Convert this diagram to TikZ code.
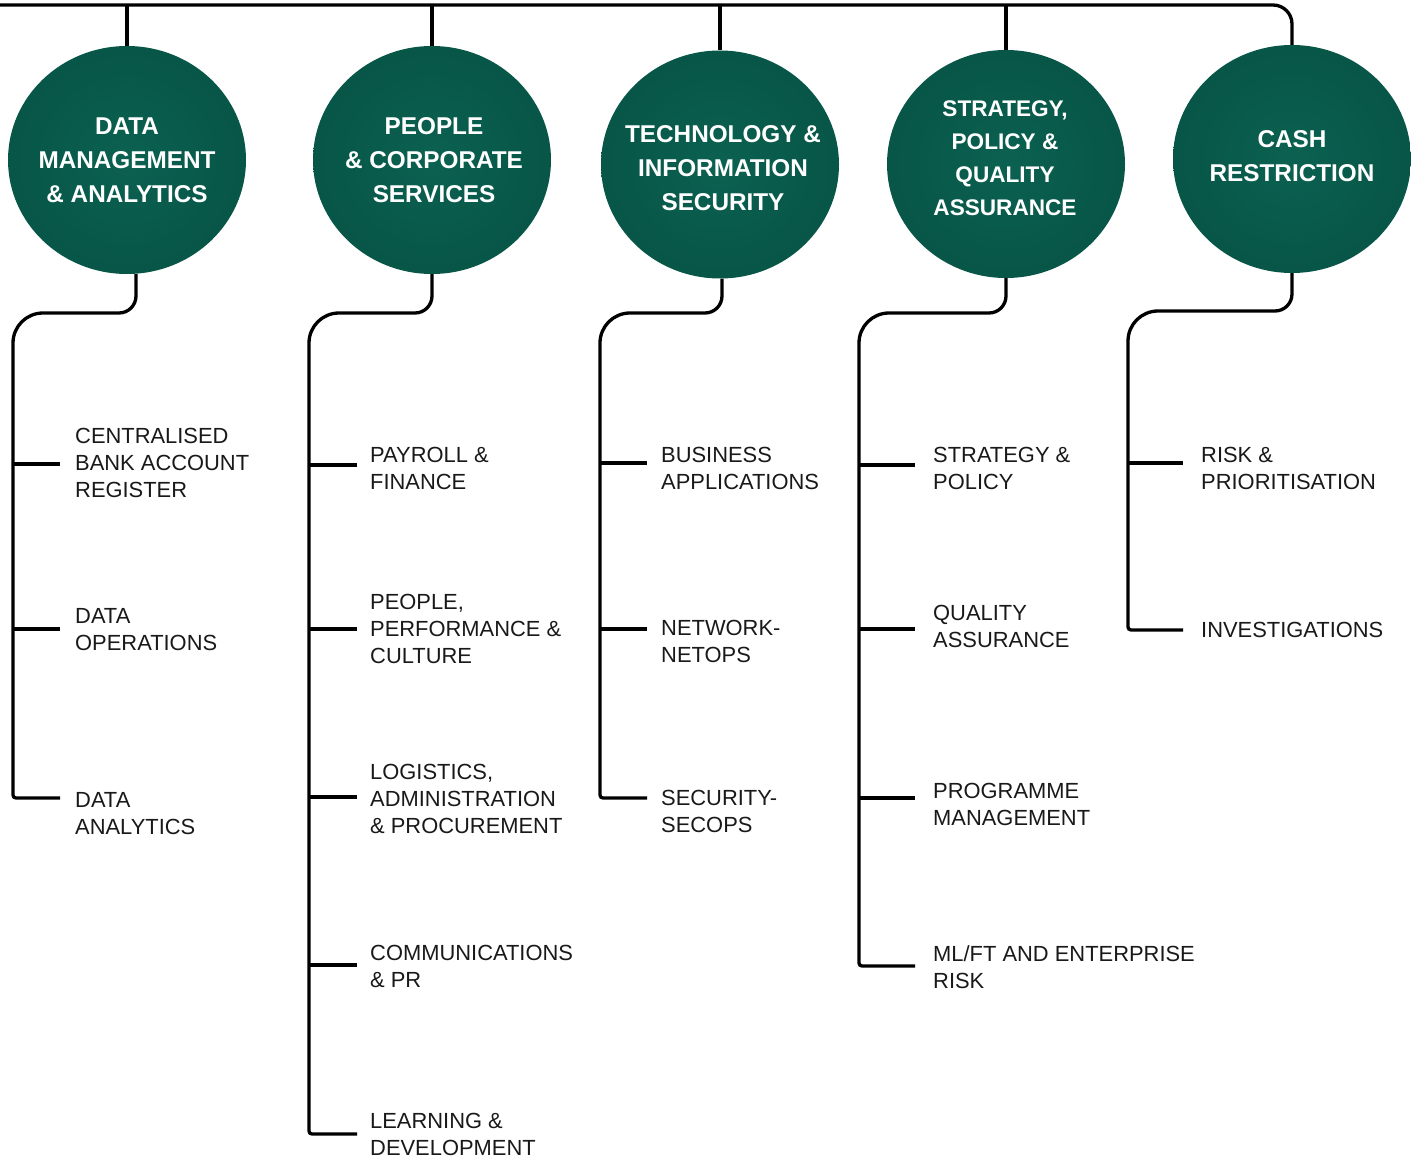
\documentclass[tikz,border=0pt]{standalone}
\usepackage{fontspec}
\setmainfont{Liberation Sans}
\usetikzlibrary{shapes.geometric,backgrounds}
\definecolor{gin}{RGB}{11,97,81}
\definecolor{gout}{RGB}{4,74,61}
\pgfdeclareradialshading{discshade}{\pgfpoint{0bp}{0bp}}{color(0bp)=(gin); color(50bp)=(gout)}
\begin{document}
\begin{tikzpicture}[x=1pt,y=-1pt,
  unit/.style={ellipse, minimum width=238pt, minimum height=228pt, inner sep=0pt, shade, shading=discshade},
  head/.style={text=white, font=\bfseries\fontsize{24.3}{34}\selectfont, align=center, inner sep=0pt},
  headsmall/.style={head, font=\bfseries\fontsize{22.6}{33}\selectfont},
  item/.style={anchor=west, inner ysep=0pt, inner xsep=#1, font=\fontsize{21.9}{27}\selectfont, align=left, text=black!90},
  conn/.style={line width=3.3pt, black}]
\useasboundingbox (0,0) rectangle (1411,1158);
% heads
\node[unit] (c1) at (127,160) {};
\node[unit] (c2) at (432,160) {};
\node[unit] (c3) at (720,164.5) {};
\node[unit] (c4) at (1006,164) {};
\node[unit] (c5) at (1292,159) {};
\node[head] (t1) at (127,160) {DATA\\MANAGEMENT\\\& ANALYTICS};
\node[head] (t2) at (434,160) {PEOPLE\\\& CORPORATE\\SERVICES};
\node[head] (t3) at (723,168) {TECHNOLOGY \&\\INFORMATION\\SECURITY};
\node[headsmall] (t4) at (1005,158) {STRATEGY,\\POLICY \&\\QUALITY\\ASSURANCE};
\node[head] (t5) at (1292,156) {CASH\\RESTRICTION};
% items (placed at their text centres)
\node[item=15pt] (i11) at (60,463) {CENTRALISED\\BANK ACCOUNT\\REGISTER};
\node[item=15pt] (i12) at (60,629.5) {DATA\\OPERATIONS};
\node[item=15pt] (i13) at (60,813.5) {DATA\\ANALYTICS};
\node[item=13pt] (i21) at (357,468.5) {PAYROLL \&\\FINANCE};
\node[item=13pt] (i22) at (357,629) {PEOPLE,\\PERFORMANCE \&\\CULTURE};
\node[item=13pt] (i23) at (357,799) {LOGISTICS,\\ADMINISTRATION\\\& PROCUREMENT};
\node[item=13pt] (i24) at (357,966.5) {COMMUNICATIONS\\\& PR};
\node[item=13pt] (i25) at (357,1134.5) {LEARNING \&\\DEVELOPMENT};
\node[item=14pt] (i31) at (647,468.5) {BUSINESS\\APPLICATIONS};
\node[item=14pt] (i32) at (647,641.5) {NETWORK-\\NETOPS};
\node[item=14pt] (i33) at (647,811.5) {SECURITY-\\SECOPS};
\node[item=18pt] (i41) at (915,468.5) {STRATEGY \&\\POLICY};
\node[item=18pt] (i42) at (915,626.5) {QUALITY\\ASSURANCE};
\node[item=18pt] (i43) at (915,804.5) {PROGRAMME\\MANAGEMENT};
\node[item=18pt] (i44) at (915,967.5) {ML/FT AND ENTERPRISE\\RISK};
\node[item=18pt] (i51) at (1183,468.5) {RISK \&\\PRIORITISATION};
\node[item=18pt] (i52) at (1183,630) {INVESTIGATIONS};
% branch ends
\coordinate (e11) at (i11.west |- 0,464);
\coordinate (e12) at (i12.west |- 0,629);
\coordinate (e13) at (i13.west |- 0,798);
\coordinate (e21) at (i21.west |- 0,465);
\coordinate (e22) at (i22.west |- 0,629);
\coordinate (e23) at (i23.west |- 0,797);
\coordinate (e24) at (i24.west |- 0,965);
\coordinate (e25) at (i25.west |- 0,1134);
\coordinate (e31) at (i31.west |- 0,463);
\coordinate (e32) at (i32.west |- 0,629);
\coordinate (e33) at (i33.west |- 0,798);
\coordinate (e41) at (i41.west |- 0,465);
\coordinate (e42) at (i42.west |- 0,629);
\coordinate (e43) at (i43.west |- 0,798);
\coordinate (e44) at (i44.west |- 0,966);
\coordinate (e51) at (i51.west |- 0,463);
\coordinate (e52) at (i52.west |- 0,630);
% corner coordinates
\coordinate (b0) at (0,5);
\coordinate (k1) at (13,313);
\coordinate (k2) at (309,313);
\coordinate (k3) at (600,313);
\coordinate (k4) at (859,313);
\coordinate (k5) at (1128,311);
\begin{scope}[on background layer]
% top bus
\draw[conn, rounded corners=19pt] (b0) -| (c5.north);
\foreach \c in {c1,c2,c3,c4} \draw[conn] (\c.north |- b0) -- (\c.north);
% column 1
\draw[conn, rounded corners=17pt] ([xshift=9pt]c1.south) -- ([xshift=9pt]c1.south |- k1) [rounded corners=30pt] -- (k1) [rounded corners=3pt] -- (k1 |- e13) -- (e13);
\foreach \e in {e11,e12} \draw[conn] (k1 |- \e) -- (\e);
% column 2
\draw[conn, rounded corners=17pt] (c2.south) -- (c2.south |- k2) [rounded corners=30pt] -- (k2) [rounded corners=3pt] -- (k2 |- e25) -- (e25);
\foreach \e in {e21,e22,e23,e24} \draw[conn] (k2 |- \e) -- (\e);
% column 3
\draw[conn, rounded corners=17pt] ([xshift=2pt]c3.south) -- ([xshift=2pt]c3.south |- k3) [rounded corners=30pt] -- (k3) [rounded corners=3pt] -- (k3 |- e33) -- (e33);
\foreach \e in {e31,e32} \draw[conn] (k3 |- \e) -- (\e);
% column 4
\draw[conn, rounded corners=17pt] (c4.south) -- (c4.south |- k4) [rounded corners=30pt] -- (k4) [rounded corners=3pt] -- (k4 |- e44) -- (e44);
\foreach \e in {e41,e42,e43} \draw[conn] (k4 |- \e) -- (\e);
% column 5
\draw[conn, rounded corners=17pt] (c5.south) -- (c5.south |- k5) [rounded corners=30pt] -- (k5) [rounded corners=3pt] -- (k5 |- e52) -- (e52);
\draw[conn] (k5 |- e51) -- (e51);
\end{scope}
\end{tikzpicture}
\end{document}
